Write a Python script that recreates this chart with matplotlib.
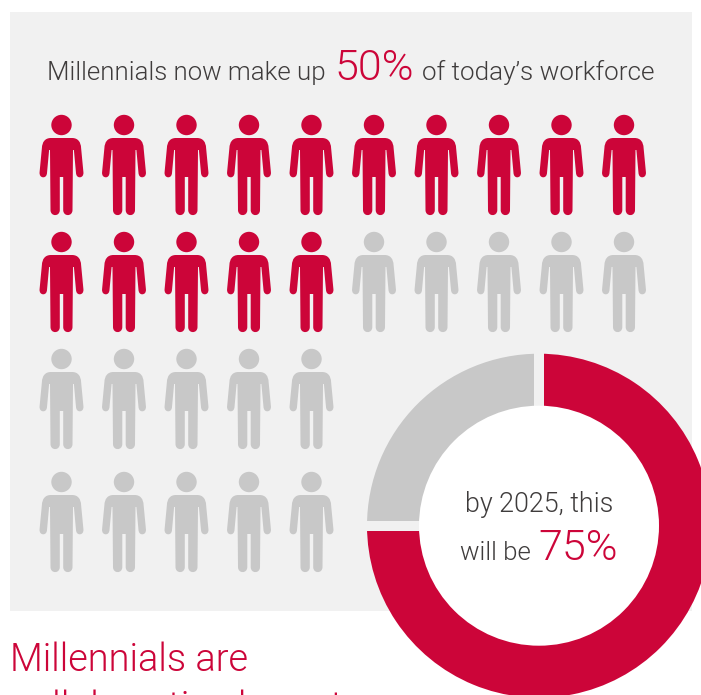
import matplotlib
matplotlib.use("Agg")
import matplotlib.pyplot as plt
from matplotlib.path import Path
from matplotlib.patches import PathPatch, Circle, Rectangle

RED = "#cc0539"
GREY = "#c8c8c8"
PANEL = "#f1f1f1"
DARK = "#3f3c3c"

# people rows
row_counts = [10, 10, 5, 5]
highlighted = 15
# share of workforce by 2025
donut_values = [75, 25]
donut_colors = [RED, GREY]

W, H = 701, 695
col_x = [61.5, 124, 186.5, 249, 311.5, 374, 436.5, 499, 561.5, 624]
row_y = [125, 242, 359, 482]

plt.rcParams["font.family"] = ["Roboto", "DejaVu Sans"]
plt.rcParams["font.weight"] = 300

fig = plt.figure(figsize=(W / 100, H / 100), dpi=100)
ax = fig.add_axes([0, 0, 1, 1])


def Y(y):
    # positions below are measured from the top of the figure
    return H - y


# right half of the figure outline, offsets from the head centre:
# 1 point is a straight line, 3 points are a bezier
START = (0.0, 13.0)
HALF = [
    [(10.5, 13.0)],
    [(16.5, 13.0), (19.3, 17.0), (19.6, 23.0)],
    [(21.9, 47.0)],
    [(22.3, 50.5), (20.5, 52.3), (18.2, 52.3)],
    [(16.0, 52.3), (14.7, 50.5), (14.5, 48.0)],
    [(12.4, 25.0)],
    [(11.5, 25.0)],
    [(11.0, 85.0)],
    [(11.0, 91.8), (1.7, 91.8), (1.7, 85.0)],
    [(1.7, 52.0)],
    [(0.0, 52.0)],
]


def person_path(cx, cy):
    pts = [START]
    codes = [Path.MOVETO]
    for seg in HALF:
        pts += seg
        codes += [Path.LINETO] if len(seg) == 1 else [Path.CURVE4] * 3
    # walk back up the mirrored side
    ends = [START] + [seg[-1] for seg in HALF]
    for i in range(len(HALF) - 1, -1, -1):
        seg = HALF[i]
        back = list(reversed(seg[:-1])) + [ends[i]]
        pts += [(-x, y) for x, y in back]
        codes += [Path.LINETO] if len(seg) == 1 else [Path.CURVE4] * 3
    return Path([(cx + x, Y(cy + y)) for x, y in pts], codes)


ax.add_patch(Rectangle((10, Y(611)), 682, 599, fc=PANEL, ec="none", zorder=0))

# people grid
n = 0
for r, count in enumerate(row_counts):
    for c in range(count):
        color = RED if n < highlighted else GREY
        ax.add_patch(Circle((col_x[c], Y(row_y[r])), 10.2, fc=color, ec="none", zorder=2))
        ax.add_patch(PathPatch(person_path(col_x[c], row_y[r]), fc=color, ec="none", zorder=2))
        n += 1

# donut
cx, cy = 539, Y(525.7)
wedges, _ = ax.pie(donut_values, colors=donut_colors, center=(cx, cy), radius=172,
                   startangle=90, counterclock=False, frame=True)
for w in wedges:
    w.set_zorder(3)
    w.set_clip_path(Rectangle((0, 0), W, H, transform=ax.transData))
ax.add_patch(Rectangle((534, Y(410)), 10.3, 60, fc=PANEL, ec="none", zorder=4))
ax.add_patch(Rectangle((364, Y(530.7)), 60, 10, fc=PANEL, ec="none", zorder=4))
ax.add_patch(Circle((cx, cy), 120, fc="white", ec="none", zorder=5))

# headline
ax.text(47, Y(80), "Millennials now make up", fontsize=18.6, color=DARK, zorder=6)
ax.text(334, Y(80.5), "50%", fontsize=31, color=RED, zorder=6)
ax.text(422, Y(80), "of today\u2019s workforce", fontsize=18.8, color=DARK, zorder=6)

# centre label
ax.text(539, Y(512), "by 2025, this", fontsize=19.4, color=DARK, ha="center", zorder=6)
ax.text(460, Y(560), "will be", fontsize=18.6, color=DARK, zorder=6)
ax.text(538.5, Y(560), "75%", fontsize=31, color=RED, zorder=6)

# heading below the panel
ax.text(10, Y(670.7), "Millennials are", fontsize=27.4, color=RED, zorder=6)
ax.text(10, Y(719), "collaborative by nature", fontsize=28.2, color=RED, zorder=6)

ax.set_xlim(0, W)
ax.set_ylim(0, H)
ax.set_aspect("auto")
ax.set_axis_off()

fig.savefig("out.png", dpi=100, facecolor="white")
